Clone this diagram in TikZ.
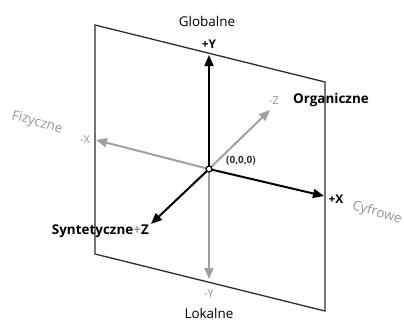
\documentclass[tikz,border=0pt]{standalone}
\usepackage{fontspec}
\setmainfont{Open Sans}
\usetikzlibrary{arrows.meta}
\definecolor{axisgray}{RGB}{160,160,160}
\definecolor{labelgray}{RGB}{150,150,150}
\definecolor{planeline}{RGB}{45,45,45}
\tikzset{
  plane/.style={draw=planeline, line width=1.3bp},
  posaxis/.style={draw=black, line width=2bp, -{Triangle[length=11bp,width=9bp]}},
  negaxis/.style={draw=axisgray, line width=2bp, -{Triangle[length=11bp,width=9bp]}},
  lbl/.style={font=\fontsize{13.5}{16}\selectfont, inner sep=1bp},
  poslbl/.style={lbl, font=\fontsize{13.5}{16}\selectfont\bfseries},
  axlbl/.style={lbl, font=\fontsize{12}{14}\selectfont\bfseries},
  neglbl/.style={lbl, text=labelgray, font=\fontsize{11}{13}\selectfont},
  graytext/.style={lbl, text=labelgray, rotate=-16, inner sep=0pt},
  origin/.style={circle, draw=black, fill=white, line width=1.2bp, minimum size=6bp, inner sep=0pt}
}
\begin{document}
\begin{tikzpicture}[x=1bp,y=-1bp]
\useasboundingbox (0,0) rectangle (404,320);
% the vertical plane seen at an angle
\coordinate (p1) at (95,25);
\coordinate (p2) at (325,82);
\coordinate (p3) at (325,311);
\coordinate (p4) at (95,254);
\draw[plane] (p1) -- (p2) -- (p3) -- (p4) -- cycle;

% axis end points
\coordinate (yp) at (209,55);
\coordinate (yn) at (209,279);
\coordinate (xp) at (324,196);
\coordinate (xn) at (96,140);
\coordinate (zn) at (270,110);
\coordinate (zp) at (151,224);
\coordinate (o) at (209,169);

% negative directions in gray
\draw[negaxis] (o) -- (yn);
\draw[negaxis] (o) -- (xn);
\draw[negaxis] (o) -- (zn);
% positive directions in black
\draw[posaxis] (o) -- (yp);
\draw[posaxis] (o) -- (xp);
\draw[posaxis] (o) -- (zp);
\node[origin] (O) at (o) {};

% axis labels
\node[axlbl] (lyp) at (209,44) {+Y};
\node[lbl] (glob) at (207,21) {Globalne};
\node[neglbl] (lyn) at (209,294) {-Y};
\node[lbl] (lok) at (209,313) {Lokalne};
\node[axlbl] (lxp) at (336,199) {+X};
\node[graytext] (cyf) at (377,213) {Cyfrowe};
\node[neglbl] (lxn) at (85,140) {-X};
\node[graytext] (fiz) at (37,123) {Fizyczne};
\node[neglbl] (lzn) at (274,101) {-Z};
\node[poslbl] (org) at (331,100) {Organiczne};
\node[poslbl, anchor=east] (syn) at (150,231) {Syntetyczne{\color{labelgray}+}Z};
\node[lbl, font=\fontsize{10}{12}\selectfont\bfseries, text=planeline] (zero) at (241,161) {(0,0,0)};
\end{tikzpicture}
\end{document}
